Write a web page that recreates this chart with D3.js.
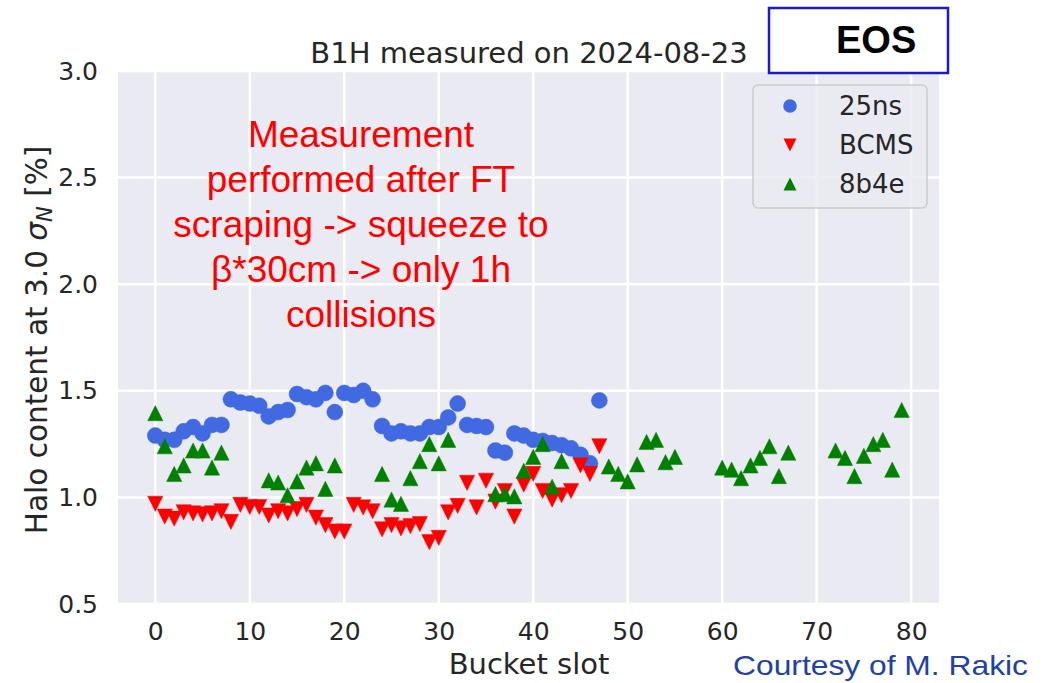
<!DOCTYPE html>
<html>
<head>
<meta charset="utf-8">
<script src="https://cdn.jsdelivr.net/npm/d3@7"></script>
<style>
  body { margin: 0; background: #fff; }
  svg { display: block; }
</style>
</head>
<body>
<svg id="chart"></svg>
<script>
// bucket slots and halo content [%]
var slots25 = [0,1,2,3,4,5,6,7,8,9,10,11,12,13,14,15,16,17,18,19,20,21,22,23,
               24,25,26,27,28,29,30,31,32,33,34,35,36,37,38,39,40,41,42,43,44,45,46,47];
var halo25 = [1.29,1.27,1.27,1.31,1.33,1.30,1.34,1.34,1.46,1.445,1.44,1.43,1.38,1.40,1.41,1.485,
              1.47,1.46,1.49,1.40,1.49,1.48,1.50,1.46,1.335,1.30,1.31,1.30,1.30,1.33,1.33,1.375,
              1.44,1.34,1.335,1.33,1.22,1.21,1.30,1.29,1.27,1.265,1.255,1.245,1.23,1.20,1.16,1.455];

var slotsBCMS = [0,1,2,3,4,5,6,7,8,9,10,11,12,13,14,15,16,17,18,19,20,21,22,23,
                 24,25,26,27,28,29,30,31,32,33,34,35,36,37,38,39,40,41,42,43,44,45,46,47];
var haloBCMS = [0.97,0.91,0.90,0.93,0.925,0.92,0.925,0.935,0.885,0.965,0.955,0.955,0.915,0.935,0.925,0.945,
                0.965,0.905,0.87,0.84,0.84,0.965,0.953,0.935,0.85,0.87,0.855,0.865,0.875,0.79,0.81,0.93,
                0.96,1.068,0.953,1.078,0.98,1.03,0.91,1.06,1.11,1.03,0.99,1.01,1.03,1.15,1.11,1.24];

var slots8b4e = [0,1,2,3,4,5,6,7, 12,13,14,15,16,17,18,19, 24,25,26,27,28,29,30,31,
                 36,37,38,39,40,41,42,43, 48,49,50,51,52,53,54,55, 60,61,62,63,64,65,66,67,
                 72,73,74,75,76,77,78,79];
var halo8b4e = [1.395,1.24,1.11,1.15,1.22,1.22,1.14,1.21, 1.08,1.07,1.01,1.075,1.14,1.16,1.04,1.15,
                1.11,0.99,0.97,1.09,1.17,1.25,1.16,1.27, 1.015,1.015,1.005,1.125,1.19,1.25,1.05,1.17,
                1.145,1.11,1.075,1.155,1.26,1.27,1.165,1.19, 1.14,1.13,1.09,1.15,1.185,1.24,1.10,1.21,
                1.22,1.185,1.10,1.195,1.25,1.27,1.13,1.41];

var xTicks = [0,10,20,30,40,50,60,70,80];
var yTicks = [0.5,1.0,1.5,2.0,2.5,3.0];

var seriesNames = ["25ns", "BCMS", "8b4e"];
var seriesColors = ["#4169e1", "#ff0000", "#008000"];
var seriesShapes = ["circle", "down", "up"];

var noteLines = ["Measurement", "performed after FT", "scraping -> squeeze to",
                 "\u03b2*30cm -> only 1h", "collisions"];

var width = 1055, height = 683;
var plot = { left: 118, right: 939, top: 71, bottom: 604 };

var svg = d3.select("#chart")
    .attr("width", width)
    .attr("height", height);

var x = d3.scaleLinear().domain([-3.95, 82.95]).range([plot.left, plot.right]);
var y = d3.scaleLinear().domain([0.5, 3.0]).range([plot.bottom, plot.top]);

// plot background
svg.append("rect")
    .attr("x", plot.left).attr("y", plot.top)
    .attr("width", plot.right - plot.left).attr("height", plot.bottom - plot.top)
    .attr("fill", "#eaeaf2");

// grid
svg.append("g").selectAll("line").data(xTicks).join("line")
    .attr("x1", d => x(d)).attr("x2", d => x(d))
    .attr("y1", plot.top).attr("y2", plot.bottom)
    .attr("stroke", "#fff").attr("stroke-width", 2.5);
svg.append("g").selectAll("line").data(yTicks).join("line")
    .attr("x1", plot.left).attr("x2", plot.right)
    .attr("y1", d => y(d)).attr("y2", d => y(d))
    .attr("stroke", "#fff").attr("stroke-width", 2.5);

// axes (no domain, no tick lines, seaborn style)
var xAxis = svg.append("g")
    .attr("transform", "translate(0," + plot.bottom + ")")
    .call(d3.axisBottom(x).tickValues(xTicks).tickSize(0).tickPadding(18).tickFormat(d3.format("d")));
var yAxis = svg.append("g")
    .attr("transform", "translate(" + plot.left + ",0)")
    .call(d3.axisLeft(y).tickValues(yTicks).tickSize(0).tickPadding(20).tickFormat(d3.format(".1f")));
[xAxis, yAxis].forEach(function (a) {
    a.select(".domain").remove();
    a.selectAll("text")
        .attr("fill", "#262626")
        .style("font", "25px 'DejaVu Sans'");
});

function markerPath(shape, r) {
    if (shape == "circle") return d3.symbol(d3.symbolCircle, Math.PI * r * r)();
    var s = shape == "up" ? -1 : 1;
    return "M0," + (s * r) + "L" + (-r) + "," + (-s * r) + "L" + r + "," + (-s * r) + "Z";
}

var series = [
    { slots: slots25, values: halo25 },
    { slots: slotsBCMS, values: haloBCMS },
    { slots: slots8b4e, values: halo8b4e }
];

series.forEach(function (s, i) {
    var pts = s.slots.map(function (k, j) { return { slot: k, v: s.values[j] }; });
    svg.append("g").selectAll("path").data(pts).join("path")
        .attr("transform", d => "translate(" + x(d.slot) + "," + y(d.v) + ")")
        .attr("d", markerPath(seriesShapes[i], i == 0 ? 8 : 7.6))
        .attr("fill", seriesColors[i])
        .attr("stroke", seriesColors[i])
        .attr("stroke-width", 0.5);
});

// title
svg.append("text")
    .attr("x", 529).attr("y", 63)
    .attr("text-anchor", "middle")
    .attr("fill", "#262626")
    .style("font", "29px 'DejaVu Sans'")
    .text("B1H measured on 2024-08-23");

// axis labels
svg.append("text")
    .attr("x", 529).attr("y", 674)
    .attr("text-anchor", "middle")
    .attr("fill", "#262626")
    .style("font", "29px 'DejaVu Sans'")
    .text("Bucket slot");

var ylab = svg.append("text")
    .attr("transform", "translate(47,340) rotate(-90)")
    .attr("text-anchor", "middle")
    .attr("fill", "#262626")
    .style("font", "29.5px 'DejaVu Sans'");
ylab.append("tspan").text("Halo content at 3.0 ");
ylab.append("tspan").attr("font-style", "italic").text("\u03c3");
ylab.append("tspan").attr("font-style", "italic").attr("font-size", "21px").attr("dy", 5).text("N");
ylab.append("tspan").attr("dy", -5).text(" [%]");

// legend
var legend = svg.append("g");
legend.append("rect")
    .attr("x", 753).attr("y", 85).attr("width", 174).attr("height", 123).attr("rx", 5)
    .attr("fill", "#eaeaf2").attr("fill-opacity", 0.8)
    .attr("stroke", "#cccccc").attr("stroke-width", 1.5);
var rows = legend.selectAll("g.row").data(seriesNames).join("g")
    .attr("class", "row")
    .attr("transform", (d, i) => "translate(0," + (106 + i * 39) + ")");
rows.append("path")
    .attr("transform", "translate(790,0)")
    .attr("d", (d, i) => markerPath(seriesShapes[i], i == 0 ? 6.8 : 6.5))
    .attr("fill", (d, i) => seriesColors[i]);
rows.append("text")
    .attr("x", 839).attr("y", 9)
    .attr("fill", "#262626")
    .style("font", "26px 'DejaVu Sans'")
    .text(d => d);

// annotation
svg.append("g").selectAll("text").data(noteLines).join("text")
    .attr("x", 361)
    .attr("y", (d, i) => 147 + i * 45)
    .attr("text-anchor", "middle")
    .attr("fill", "#ff0000")
    .style("font", "37px 'Liberation Sans', Arial, sans-serif")
    .text(d => d);

// EOS box
svg.append("rect")
    .attr("x", 769).attr("y", 8).attr("width", 179).attr("height", 65)
    .attr("fill", "#fff")
    .attr("stroke", "#1a1ac8").attr("stroke-width", 2.5);
svg.append("text")
    .attr("x", 836).attr("y", 53)
    .attr("fill", "#000")
    .style("font", "bold 38px 'Liberation Sans', Arial, sans-serif")
    .text("EOS");

// credit
svg.append("text")
    .attr("x", 733).attr("y", 675)
    .attr("fill", "#2241a0")
    .attr("textLength", 295)
    .attr("lengthAdjust", "spacingAndGlyphs")
    .style("font", "28px 'Liberation Sans', Arial, sans-serif")
    .text("Courtesy of M. Rakic");
</script>
</body>
</html>
